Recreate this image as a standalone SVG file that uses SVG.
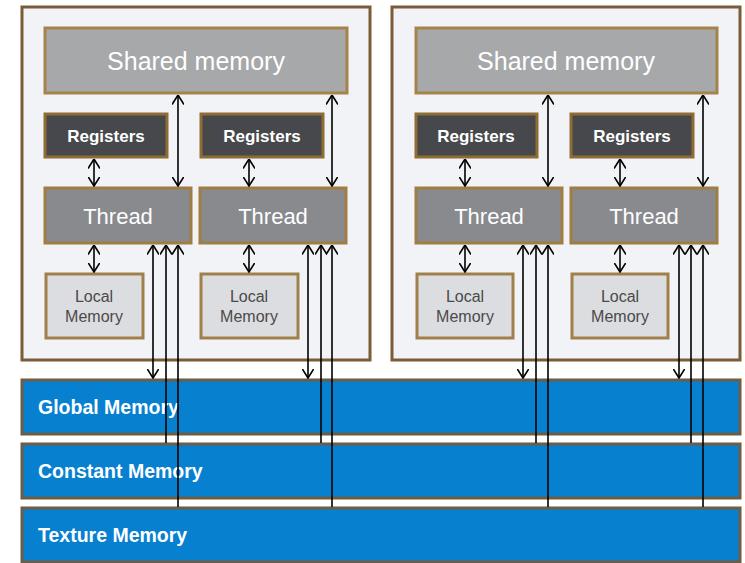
<svg xmlns="http://www.w3.org/2000/svg" width="745" height="563" viewBox="0 0 745 563">
<defs>
<marker id="ah" viewBox="0 0 10 12" refX="9.5" refY="6" markerWidth="10" markerHeight="12" markerUnits="userSpaceOnUse" orient="auto-start-reverse">
<path d="M0,0 L9.5,6 L0,12" fill="none" stroke="#000" stroke-width="1.6"/>
</marker>
<style>
.blk{fill:#f2f3f6;stroke:#7a5c38;stroke-width:3}
.shm{fill:#a6a8aa;stroke:#a6834a;stroke-width:3}
.reg{fill:#47484b;stroke:#8e6c32;stroke-width:3}
.thr{fill:#898a8e;stroke:#a07d42;stroke-width:3}
.loc{fill:#dcdde0;stroke:#a0804a;stroke-width:3}
.mem{fill:#0880d0;stroke:#6e5c46;stroke-width:3}
.tw{fill:#fff;font-family:"Liberation Sans",Arial,sans-serif;text-anchor:middle}
.tl{fill:#4a4a4a;font-family:"Liberation Sans",Arial,sans-serif;text-anchor:middle;font-size:16px}
.tm{fill:#fff;font-family:"Liberation Sans",Arial,sans-serif;font-size:19.5px;font-weight:bold}
.c2{stroke:#000;stroke-width:1.6;fill:none;marker-start:url(#ah);marker-end:url(#ah)}
.cs{stroke:#000;stroke-width:1.6;fill:none;marker-start:url(#ah)}
</style>
</defs>
<rect width="745" height="563" fill="#fff"/>
<g id="block1">
<rect class="blk" x="22" y="7" width="348" height="353"/>
</g>
<g id="block2">
<rect class="blk" x="392" y="7" width="348" height="353"/>
</g>
<g id="shared1"><rect class="shm" x="45" y="28" width="302" height="65"/><text class="tw" x="196" y="70" font-size="25">Shared memory</text></g>
<g id="shared2"><rect class="shm" x="416" y="28" width="301" height="65"/><text class="tw" x="566" y="70" font-size="25">Shared memory</text></g>
<g id="reg1"><rect class="reg" x="45" y="114" width="122" height="43"/><text class="tw" x="106" y="142" font-size="17" font-weight="bold">Registers</text></g>
<g id="reg2"><rect class="reg" x="201" y="114" width="122" height="43"/><text class="tw" x="262" y="142" font-size="17" font-weight="bold">Registers</text></g>
<g id="reg3"><rect class="reg" x="416" y="114" width="121" height="43"/><text class="tw" x="476" y="142" font-size="17" font-weight="bold">Registers</text></g>
<g id="reg4"><rect class="reg" x="571" y="114" width="122" height="43"/><text class="tw" x="632" y="142" font-size="17" font-weight="bold">Registers</text></g>
<g id="thread1"><rect class="thr" x="45" y="188" width="146" height="55"/><text class="tw" x="118" y="224" font-size="22">Thread</text></g>
<g id="thread2"><rect class="thr" x="200" y="188" width="146" height="55"/><text class="tw" x="273" y="224" font-size="22">Thread</text></g>
<g id="thread3"><rect class="thr" x="416" y="188" width="146" height="55"/><text class="tw" x="489" y="224" font-size="22">Thread</text></g>
<g id="thread4"><rect class="thr" x="571" y="188" width="146" height="55"/><text class="tw" x="644" y="224" font-size="22">Thread</text></g>
<g id="local1"><rect class="loc" x="46" y="274" width="97" height="64"/><text class="tl" x="94" y="302">Local</text><text class="tl" x="94" y="322">Memory</text></g>
<g id="local2"><rect class="loc" x="201" y="274" width="97" height="64"/><text class="tl" x="249" y="302">Local</text><text class="tl" x="249" y="322">Memory</text></g>
<g id="local3"><rect class="loc" x="417" y="274" width="96" height="64"/><text class="tl" x="465" y="302">Local</text><text class="tl" x="465" y="322">Memory</text></g>
<g id="local4"><rect class="loc" x="572" y="274" width="96" height="64"/><text class="tl" x="620" y="302">Local</text><text class="tl" x="620" y="322">Memory</text></g>
<g id="global"><rect class="mem" x="22" y="380" width="718" height="54"/><text class="tm" x="38" y="414">Global Memory</text></g>
<g id="constant"><rect class="mem" x="22" y="444" width="718" height="54"/><text class="tm" x="38" y="478">Constant Memory</text></g>
<g id="texture"><rect class="mem" x="22" y="508" width="718" height="54"/><text class="tm" x="38" y="542">Texture Memory</text></g>
<g id="connectors">
<line class="c2" x1="94" y1="159" x2="94" y2="186"/>
<line class="c2" x1="249" y1="159" x2="249" y2="186"/>
<line class="c2" x1="465" y1="159" x2="465" y2="186"/>
<line class="c2" x1="620" y1="159" x2="620" y2="186"/>
<line class="c2" x1="178" y1="95" x2="178" y2="186"/>
<line class="c2" x1="332" y1="95" x2="332" y2="186"/>
<line class="c2" x1="548" y1="95" x2="548" y2="186"/>
<line class="c2" x1="703" y1="95" x2="703" y2="186"/>
<line class="c2" x1="94" y1="245" x2="94" y2="272"/>
<line class="c2" x1="249" y1="245" x2="249" y2="272"/>
<line class="c2" x1="465" y1="245" x2="465" y2="272"/>
<line class="c2" x1="620" y1="245" x2="620" y2="272"/>
<line class="c2" x1="153" y1="245" x2="153" y2="378"/>
<line class="cs" x1="166" y1="245" x2="166" y2="443"/>
<line class="cs" x1="178" y1="245" x2="178" y2="507"/>
<line class="c2" x1="308" y1="245" x2="308" y2="378"/>
<line class="cs" x1="321" y1="245" x2="321" y2="443"/>
<line class="cs" x1="332" y1="245" x2="332" y2="507"/>
<line class="c2" x1="523" y1="245" x2="523" y2="378"/>
<line class="cs" x1="536" y1="245" x2="536" y2="443"/>
<line class="cs" x1="548" y1="245" x2="548" y2="507"/>
<line class="c2" x1="679" y1="245" x2="679" y2="378"/>
<line class="cs" x1="691" y1="245" x2="691" y2="443"/>
<line class="cs" x1="703" y1="245" x2="703" y2="507"/>
</g>
</svg>
